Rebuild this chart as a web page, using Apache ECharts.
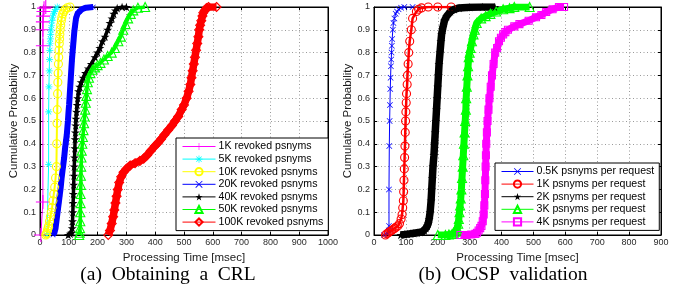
<!DOCTYPE html>
<html><head><meta charset="utf-8">
<script src="https://cdn.jsdelivr.net/npm/echarts@6/dist/echarts.min.js"></script>
<style>html,body{margin:0;padding:0;background:#fff}#c{width:673px;height:296px}</style>
</head><body><div id="c"></div>
<script>
// ---------- (a) Obtaining a CRL : processing time [msec] vs cumulative probability ----------
const crlNames = ['1K revoked psnyms','5K revoked psnyms','10K revoked psnyms','20K revoked psnyms','40K revoked psnyms','50K revoked psnyms','100K revoked psnyms'];
const crl1kT = [3,10,10,10,10,11,12,14,20];
const crl1kP = [0,0.145,0.83,0.9,0.935,0.96,0.98,0.995,1];
const crl5kT = [24,30,30,31,32,33,34,35,36,37,38,40,42,44,47,50,54,60];
const crl5kP = [0,0.31,0.54,0.65,0.72,0.77,0.81,0.84,0.86,0.88,0.9,0.92,0.94,0.955,0.97,0.98,0.99,1];
const crl10kT = [20,22,24,26,28,30,33,36,39,42,45,48,51,54,57,58,59,60,61,62,63,64,65,66,67,68,69,70,72,74,76,79,83,88,95,104];
const crl10kP = [0,0.005,0.01,0.02,0.03,0.04,0.06,0.08,0.1,0.12,0.15,0.18,0.21,0.25,0.3,0.4,0.49,0.55,0.62,0.67,0.71,0.75,0.78,0.81,0.84,0.86,0.88,0.9,0.92,0.94,0.955,0.97,0.98,0.99,0.997,1];
const crl20kT = [45,50,54,57,60,63,66,69,72,75,78,81,84,87,90,93,95,97,99,101,103,105,107,109,111,113,115,117,119,122,125,130,137,145,160,185];
const crl20kP = [0,0.01,0.03,0.06,0.09,0.12,0.15,0.18,0.21,0.25,0.28,0.31,0.34,0.38,0.41,0.44,0.47,0.5,0.54,0.57,0.61,0.65,0.69,0.73,0.77,0.8,0.83,0.86,0.89,0.92,0.95,0.97,0.98,0.99,0.997,1];
const crl40kT = [98,105,110,112,113,114,115,116,117,118,119,120,121,122,123,124,125,127,129,131,134,138,143,150,158,168,178,191,200,208,217,226,235,243,250,256,262,268,285,300];
const crl40kP = [0,0.005,0.01,0.03,0.06,0.1,0.14,0.18,0.22,0.26,0.3,0.34,0.38,0.42,0.45,0.48,0.51,0.54,0.57,0.6,0.63,0.65,0.67,0.69,0.71,0.73,0.75,0.78,0.8,0.82,0.85,0.87,0.9,0.93,0.95,0.97,0.985,0.995,1,1];
const crl50kT = [136,138,139,140,140,141,141,142,142,143,144,145,147,149,151,153,155,157,159,161,163,166,170,175,182,191,200,210,222,235,249,260,272,281,289,297,306,315,324,340,365];
const crl50kP = [0,0.01,0.03,0.06,0.1,0.14,0.18,0.22,0.26,0.3,0.34,0.37,0.4,0.43,0.46,0.49,0.52,0.55,0.58,0.61,0.64,0.67,0.69,0.71,0.725,0.735,0.745,0.755,0.77,0.785,0.8,0.82,0.85,0.87,0.9,0.925,0.95,0.97,0.985,0.997,1];
const crl100kT = [237,243,249,254,258,262,266,270,275,282,290,300,313,330,347,360,372,385,399,410,420,432,445,458,469,480,492,500,509,516,522,526,530,534,538,542,546,550,553,556,560,564,567,572,578,585,613];
const crl100kP = [0,0.02,0.05,0.08,0.11,0.14,0.17,0.2,0.23,0.255,0.275,0.29,0.305,0.315,0.325,0.335,0.35,0.37,0.39,0.405,0.42,0.44,0.46,0.48,0.5,0.52,0.55,0.57,0.6,0.63,0.66,0.69,0.72,0.75,0.78,0.81,0.84,0.87,0.9,0.92,0.94,0.96,0.975,0.985,0.995,1,1];

// ---------- (b) OCSP validation ----------
const ocspNames = ['0.5K psnyms per request','1K psnyms per request','2K psnyms per request','3K psnyms per request','4K psnyms per request'];
const ocsp05T = [32,42,46,47,47,48,49,50,51,52,53,54,55,56,57,59,61,64,68,72,77,85,95,121];
const ocsp05P = [0,0.005,0.02,0.04,0.2,0.39,0.5,0.57,0.64,0.69,0.74,0.77,0.8,0.83,0.86,0.9,0.93,0.95,0.97,0.98,0.99,0.997,1,1];
const ocsp1kT = [36,40,45,50,55,60,65,70,75,80,85,88,90,92,93,94,95,96,97,98,99,100,101,102,104,105,107,109,112,117,121,133,140,149,170,200,242];
const ocsp1kP = [0,0.005,0.01,0.015,0.02,0.025,0.03,0.035,0.04,0.05,0.07,0.09,0.12,0.15,0.19,0.24,0.29,0.34,0.39,0.45,0.5,0.54,0.58,0.62,0.66,0.7,0.75,0.8,0.85,0.9,0.95,0.98,0.99,0.996,1,1,1];
const ocsp2kT = [84,95,105,115,125,135,145,152,158,163,167,170,173,176,179,181,183,185,188,190,192,194,196,198,200,202,204,207,210,212,216,221,228,240,252,267,300,340,379];
const ocsp2kP = [0,0.002,0.004,0.006,0.008,0.01,0.012,0.015,0.02,0.03,0.04,0.05,0.07,0.1,0.15,0.2,0.25,0.3,0.35,0.4,0.45,0.5,0.55,0.6,0.65,0.7,0.75,0.8,0.85,0.88,0.91,0.94,0.96,0.98,0.99,0.996,0.999,1,1];
const ocsp3kT = [200,224,235,245,250,255,258,261,264,266,268,270,272,274,276,278,280,282,284,286,288,289,291,293,295,297,300,303,307,312,316,322,336,350,365,383,405,425,440,488];
const ocsp3kP = [0,0,0.002,0.005,0.01,0.015,0.02,0.03,0.05,0.07,0.1,0.13,0.16,0.2,0.25,0.3,0.35,0.4,0.45,0.5,0.55,0.6,0.65,0.7,0.74,0.78,0.8,0.82,0.85,0.88,0.9,0.93,0.95,0.96,0.97,0.98,0.99,0.995,1,1];
const ocsp4kT = [271,290,305,318,323,328,333,337,341,344,346,348,349,350,351,352,354,356,359,362,366,370,375,380,386,392,398,405,412,420,440,456,485,508,525,540,560,580,596];
const ocsp4kP = [0,0,0.002,0.005,0.01,0.02,0.03,0.04,0.06,0.09,0.13,0.18,0.24,0.3,0.35,0.4,0.45,0.5,0.55,0.6,0.65,0.7,0.75,0.8,0.82,0.85,0.865,0.88,0.89,0.9,0.915,0.925,0.94,0.955,0.965,0.978,0.99,1,1];

const captions = ['(a)\u2002Obtaining\u2002a\u2002CRL', '(b)\u2002OCSP\u2002validation'];
const xTitle = 'Processing Time [msec]';
const yTitle = 'Cumulative Probability';

// ---------- marker shapes ----------
const PLUS = 'path://M-0.8,-10L0.8,-10L0.8,-0.8L10,-0.8L10,0.8L0.8,0.8L0.8,10L-0.8,10L-0.8,0.8L-10,0.8L-10,-0.8L-0.8,-0.8Z';
const XMARK = 'path://M-10,-8.4L-8.4,-10L0,-1.6L8.4,-10L10,-8.4L1.6,0L10,8.4L8.4,10L0,1.6L-8.4,10L-10,8.4L-1.6,0Z';
const ASTER = 'path://M-1,-10L1,-10L1,10L-1,10Z M-10,-1L10,-1L10,1L-10,1Z M-8,-6.6L-6.6,-8L8,6.6L6.6,8Z M6.6,-8L8,-6.6L-6.6,8L-8,6.6Z';
const STAR = 'path://M0,-10L2.234,-3.074L9.511,-3.09L3.614,1.174L5.878,8.09L0,3.8L-5.878,8.09L-3.614,1.174L-9.511,-3.09L-2.234,-3.074Z';

const FONT = 'Liberation Sans';

function mk(name, T, P, color, symbol, size, hollow, lw, gi) {
  return {
    type: 'line', name: name, xAxisIndex: gi, yAxisIndex: gi,
    data: T.map((t, i) => [t, P[i]]),
    symbol: symbol, symbolSize: size, symbolKeepAspect: true,
    showSymbol: true, showAllSymbol: true, animation: false, silent: true,
    color: color,
    lineStyle: { color: color, width: lw },
    itemStyle: hollow ? { color: 'rgba(255,255,255,0)', borderColor: color, borderWidth: 1.1 }
                      : { color: color, borderWidth: 0 },
    emphasis: { disabled: true }
  };
}

const series = [
  mk(crlNames[0], crl1kT, crl1kP, '#ff00ff', PLUS, 14, false, 1, 0),
  mk(crlNames[1], crl5kT, crl5kP, '#00ffff', ASTER, 7, false, 1, 0),
  mk(crlNames[2], crl10kT, crl10kP, '#ffff00', 'circle', 8, true, 2, 0),
  mk(crlNames[3], crl20kT, crl20kP, '#0000ff', XMARK, 5, false, 6, 0),
  mk(crlNames[4], crl40kT, crl40kP, '#000000', STAR, 9, false, 3.5, 0),
  mk(crlNames[5], crl50kT, crl50kP, '#00ff00', 'triangle', 9, true, 3.5, 0),
  mk(crlNames[6], crl100kT, crl100kP, '#ff0000', 'diamond', 9, true, 7.5, 0),
  mk(ocspNames[0], ocsp05T, ocsp05P, '#0000ff', XMARK, 6, false, 1, 1),
  mk(ocspNames[1], ocsp1kT, ocsp1kP, '#ff0000', 'circle', 8, true, 2.5, 1),
  mk(ocspNames[2], ocsp2kT, ocsp2kP, '#000000', STAR, 9, false, 7.5, 1),
  mk(ocspNames[3], ocsp3kT, ocsp3kP, '#00ff00', 'triangle', 9, true, 7, 1),
  mk(ocspNames[4], ocsp4kT, ocsp4kP, '#ff00ff', 'rect', 7, true, 7, 1)
];

function xMain(gi, max) {
  return {
    gridIndex: gi, type: 'value', min: 0, max: max, interval: 100, position: 'bottom',
    name: xTitle, nameLocation: 'middle', nameGap: 13,
    nameTextStyle: { fontFamily: FONT, fontSize: 11.5, color: '#1a1a1a' },
    axisLine: { onZero: false, lineStyle: { color: '#000', width: 1 } },
    axisTick: { inside: true, length: 3, lineStyle: { color: '#000' } },
    axisLabel: { fontFamily: FONT, fontSize: 9, color: '#2a2a2a', margin: 3, formatter: v => String(v) },
    splitLine: { show: true, lineStyle: { color: '#9a9a9a', type: [1, 2.5], width: 1 } }
  };
}
function xTop(gi, max) {
  return {
    gridIndex: gi, type: 'value', min: 0, max: max, interval: 100, position: 'top',
    axisLine: { onZero: false, lineStyle: { color: '#000', width: 1 } },
    axisTick: { inside: true, length: 3, lineStyle: { color: '#000' } },
    axisLabel: { show: false }, splitLine: { show: false }
  };
}
function yMain(gi) {
  return {
    gridIndex: gi, type: 'value', min: 0, max: 1, interval: 0.1, position: 'left',
    name: yTitle, nameLocation: 'middle', nameGap: 18,
    nameTextStyle: { fontFamily: FONT, fontSize: 11.5, color: '#1a1a1a' },
    axisLine: { onZero: false, lineStyle: { color: '#000', width: 1 } },
    axisTick: { inside: true, length: 3, lineStyle: { color: '#000' } },
    axisLabel: { fontFamily: FONT, fontSize: 9, color: '#2a2a2a', margin: 4 },
    splitLine: { show: true, lineStyle: { color: '#9a9a9a', type: [1, 2.5], width: 1 } }
  };
}
function yRight(gi) {
  return {
    gridIndex: gi, type: 'value', min: 0, max: 1, interval: 0.1, position: 'right',
    axisLine: { onZero: false, lineStyle: { color: '#000', width: 1 } },
    axisTick: { inside: true, length: 3, lineStyle: { color: '#000' } },
    axisLabel: { show: false }, splitLine: { show: false }
  };
}

function legend(names, left, top, itemWidth) {
  return {
    data: names, orient: 'vertical', left: left, top: top,
    padding: [3, 5, 3, 6], itemWidth: itemWidth, itemHeight: 9, itemGap: 1.6,
    backgroundColor: '#fff', borderColor: '#000', borderWidth: 1, borderRadius: 0,
    selectedMode: false,
    lineStyle: { width: 1 },
    textStyle: { fontFamily: FONT, fontSize: 10.6, color: '#000', padding: [0, 0, 0, -2] }
  };
}

const chart = echarts.init(document.getElementById('c'), null, { renderer: 'canvas' });
chart.setOption({
  animation: false,
  backgroundColor: '#fff',
  grid: [
    { left: 40, top: 7, width: 288, height: 228, show: true, borderColor: '#000', borderWidth: 1, backgroundColor: '#fff' },
    { left: 374, top: 7, width: 287, height: 228, show: true, borderColor: '#000', borderWidth: 1, backgroundColor: '#fff' }
  ],
  xAxis: [xMain(0, 1000), xMain(1, 900), xTop(0, 1000), xTop(1, 900)],
  yAxis: [yMain(0), yMain(1), yRight(0), yRight(1)],
  legend: [legend(crlNames, 176, 138, 33), legend(ocspNames, 495, 163, 32)],
  series: series,
  graphic: [
    { type: 'text', x: 168, y: 265, style: { text: captions[0], font: '19.5px "Liberation Serif"', fill: '#000', textAlign: 'center', textVerticalAlign: 'top' } },
    { type: 'text', x: 503, y: 265, style: { text: captions[1], font: '19.5px "Liberation Serif"', fill: '#000', textAlign: 'center', textVerticalAlign: 'top' } }
  ]
});
</script></body></html>
